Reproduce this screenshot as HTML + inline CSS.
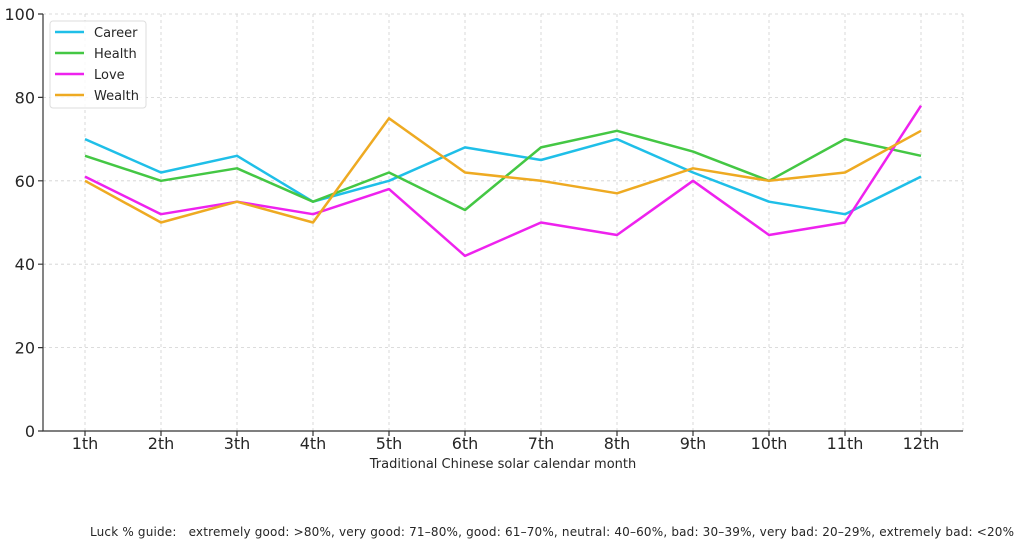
<!DOCTYPE html><html><head><style>body{margin:0;background:#fff}svg{display:block}text{font-family:"DejaVu Sans","Liberation Sans",sans-serif;fill:#262626}</style></head><body>
<svg width="1024" height="543" viewBox="0 0 1024 543">
<g stroke="#d0d0d0" stroke-width="0.8" stroke-dasharray="3,3">
<line x1="43" x2="963" y1="347.6" y2="347.6"/><line x1="43" x2="963" y1="264.2" y2="264.2"/><line x1="43" x2="963" y1="180.8" y2="180.8"/><line x1="43" x2="963" y1="97.4" y2="97.4"/><line x1="43" x2="963" y1="14" y2="14"/>
<line x1="85" x2="85" y1="14" y2="431"/><line x1="161" x2="161" y1="14" y2="431"/><line x1="237" x2="237" y1="14" y2="431"/><line x1="313" x2="313" y1="14" y2="431"/><line x1="389" x2="389" y1="14" y2="431"/><line x1="465" x2="465" y1="14" y2="431"/><line x1="541" x2="541" y1="14" y2="431"/><line x1="617" x2="617" y1="14" y2="431"/><line x1="693" x2="693" y1="14" y2="431"/><line x1="769" x2="769" y1="14" y2="431"/><line x1="845" x2="845" y1="14" y2="431"/><line x1="921" x2="921" y1="14" y2="431"/>
<line x1="963" x2="963" y1="14" y2="431"/>
</g>
<g stroke="#333" stroke-width="1.2" fill="none">
<polyline points="43,14 43,431 963,431"/>
<path d="M38,431h5M38,347.6h5M38,264.2h5M38,180.8h5M38,97.4h5M38,14h5M85,431v5M161,431v5M237,431v5M313,431v5M389,431v5M465,431v5M541,431v5M617,431v5M693,431v5M769,431v5M845,431v5M921,431v5"/>
</g>
<g font-size="16" text-anchor="end">
<text x="35" y="437">0</text><text x="35" y="353.6">20</text><text x="35" y="270.2">40</text><text x="35" y="186.8">60</text><text x="35" y="103.4">80</text><text x="35" y="20">100</text>
</g>
<g font-size="16" text-anchor="middle">
<text x="85" y="449">1th</text><text x="161" y="449">2th</text><text x="237" y="449">3th</text><text x="313" y="449">4th</text><text x="389" y="449">5th</text><text x="465" y="449">6th</text><text x="541" y="449">7th</text><text x="617" y="449">8th</text><text x="693" y="449">9th</text><text x="769" y="449">10th</text><text x="845" y="449">11th</text><text x="921" y="449">12th</text>
</g>
<text x="503" y="468" font-size="13" text-anchor="middle">Traditional Chinese solar calendar month</text>
<text x="90" y="536" font-size="12" style="white-space:pre" textLength="924" lengthAdjust="spacing">Luck % guide:   extremely good: &gt;80%, very good: 71–80%, good: 61–70%, neutral: 40–60%, bad: 30–39%, very bad: 20–29%, extremely bad: &lt;20%</text>
<g fill="none" stroke-width="2.5" stroke-linejoin="round">
<polyline stroke="#1fbfe8" points="85,139.1 161,172.5 237,155.8 313,201.7 389,180.8 465,147.4 541,160 617,139.1 693,172.5 769,201.7 845,214.2 921,176.6"/>
<polyline stroke="#44c744" points="85,155.8 161,180.8 237,168.3 313,201.7 389,172.5 465,210 541,147.4 617,130.8 693,151.6 769,180.8 845,139.1 921,155.8"/>
<polyline stroke="#ee22ee" points="85,176.6 161,214.2 237,201.7 313,214.2 389,189.1 465,255.9 541,222.5 617,235 693,180.8 769,235 845,222.5 921,105.7"/>
<polyline stroke="#eeaa22" points="85,180.8 161,222.5 237,201.7 313,222.5 389,118.3 465,172.5 541,180.8 617,193.3 693,168.3 769,180.8 845,172.5 921,130.8"/>
</g>
<rect x="50" y="21" width="96" height="87" rx="3" fill="#fff" fill-opacity="0.85" stroke="#ddd"/>
<g stroke-width="2.5"><line x1="55" x2="84" y1="32" y2="32" stroke="#1fbfe8"/><line x1="55" x2="84" y1="53" y2="53" stroke="#44c744"/><line x1="55" x2="84" y1="74" y2="74" stroke="#ee22ee"/><line x1="55" x2="84" y1="95" y2="95" stroke="#eeaa22"/></g>
<g font-size="13"><text x="94" y="37">Career</text><text x="94" y="58">Health</text><text x="94" y="79">Love</text><text x="94" y="100">Wealth</text></g>
</svg></body></html>
